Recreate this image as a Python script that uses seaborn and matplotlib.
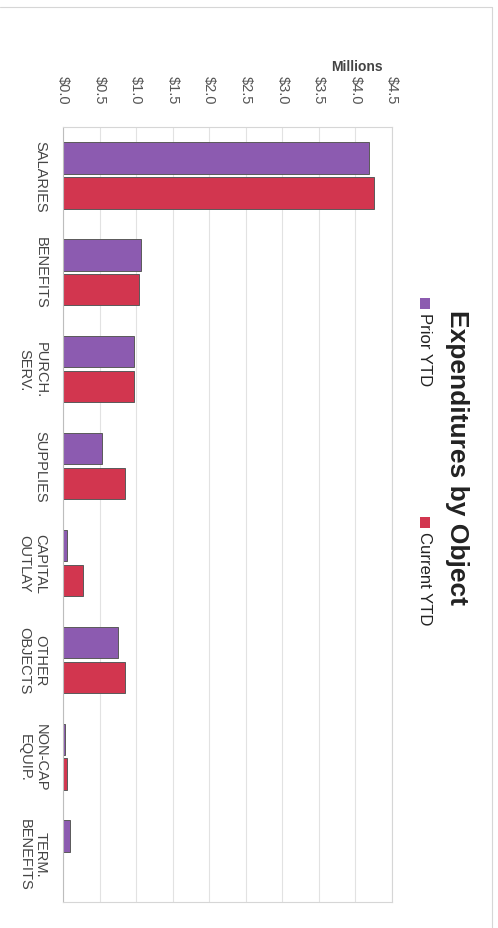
import numpy as np
import pandas as pd
import matplotlib
matplotlib.use("Agg")
import matplotlib.pyplot as plt
from matplotlib.patches import Rectangle
from matplotlib.lines import Line2D
import seaborn as sns

# Expenditures by object (millions of dollars)
categories = ["SALARIES", "BENEFITS", "PURCH.\nSERV.", "SUPPLIES",
              "CAPITAL\nOUTLAY", "OTHER\nOBJECTS", "NON-CAP\nEQUIP.", "TERM.\nBENEFITS"]
prior_ytd = [4.18, 1.07, 0.97, 0.53, 0.05, 0.75, 0.03, 0.10]
current_ytd = [4.26, 1.04, 0.97, 0.85, 0.28, 0.85, 0.05, 0.00]
series_names = ["Prior YTD", "Current YTD"]
tick_values = [0.0, 0.5, 1.0, 1.5, 2.0, 2.5, 3.0, 3.5, 4.0, 4.5]
tick_labels = ["$0.0", "$0.5", "$1.0", "$1.5", "$2.0", "$2.5", "$3.0", "$3.5", "$4.0", "$4.5"]

PURPLE = "#8c5bb0"
RED = "#d2364f"

df = pd.DataFrame({
    "Category": categories * 2,
    "Amount": prior_ytd + current_ytd,
    "Series": [series_names[0]] * len(categories) + [series_names[1]] * len(categories),
})

sns.set_theme(style="white")
plt.rcParams["font.family"] = ["Liberation Sans", "DejaVu Sans"]

W, H = 498, 929
fig = plt.figure(figsize=(W / 100, H / 100), dpi=100)
ax = fig.add_axes([63 / W, 1 - 903 / H, (392 - 63) / W, (903 - 128) / H])

sns.barplot(data=df, y="Category", x="Amount", hue="Series", orient="h",
            order=categories, hue_order=series_names, palette=[PURPLE, RED],
            saturation=1, width=0.72, gap=0.1, edgecolor="#5a5a5a", linewidth=0.7,
            legend=False, ax=ax)
for p in ax.patches:
    if p.get_width() == 0:
        p.set_visible(False)

ax.set_xlim(0, 4.5)
ax.set_xlabel("")
ax.set_ylabel("")
ax.grid(axis="x", color="#e2e2e2", linewidth=0.8)
ax.grid(axis="y", visible=False)
ax.set_axisbelow(True)
for s in ax.spines.values():
    s.set_visible(True)
    s.set_color("#d6d6d6")
    s.set_linewidth(0.8)
ax.spines["left"].set_color("#bdbdbd")

# value axis across the top, labels turned to read downward
ax.xaxis.tick_top()
ax.set_xticks(tick_values)
ax.set_xticklabels(tick_labels, rotation=-90, fontsize=10.5, color="#555555",
                   ha="center", va="bottom")
ax.tick_params(axis="x", length=0, pad=17)

ax.set_yticks(range(len(categories)))
ax.set_yticklabels(categories, rotation=-90, fontsize=10.5, color="#444444",
                   ha="right", va="center", multialignment="center")
ax.tick_params(axis="y", length=0, pad=11)

fig.text(357 / W, 1 - 67 / H, "Millions", ha="center", va="center",
         fontsize=10, fontweight="bold", color="#444444")

# title and legend, set sideways along the right margin
fig.text(457 / W, 1 - 458 / H, "Expenditures by Object", rotation=-90,
         ha="center", va="center", fontsize=19, fontweight="bold", color="#222222")

legend_items = [(series_names[0], PURPLE, 304), (series_names[1], RED, 523)]
for name, color, yc in legend_items:
    fig.add_artist(Rectangle(((425 - 5) / W, 1 - (yc + 5.5) / H), 10 / W, 11 / H,
                             transform=fig.transFigure, facecolor=color,
                             edgecolor="none"))
    fig.text(424 / W, 1 - (yc + 9) / H, name, rotation=-90, ha="center", va="top",
             fontsize=12, color="#222222")

# page edge
fig.add_artist(Line2D([0, 492 / W], [1 - 8 / H, 1 - 8 / H], transform=fig.transFigure,
                      color="#d6d6d6", linewidth=0.8))
fig.add_artist(Line2D([492 / W, 492 / W], [0, 1 - 8 / H], transform=fig.transFigure,
                      color="#d6d6d6", linewidth=0.8))

fig.savefig("out.png", dpi=100, facecolor="white")
